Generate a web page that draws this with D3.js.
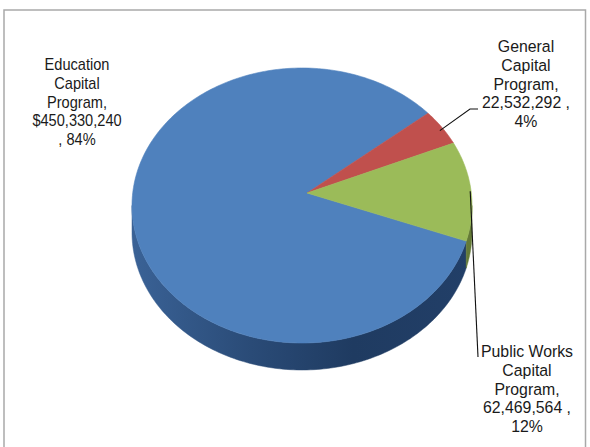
<!DOCTYPE html>
<html>
<head>
<meta charset="utf-8">
<script src="https://cdn.jsdelivr.net/npm/d3@7"></script>
<style>
  html, body { margin: 0; padding: 0; background: #fff; }
  svg { display: block; }
  text { font-family: "Liberation Sans", Arial, sans-serif; fill: #1a1a1a; }
</style>
</head>
<body>
<script>
// Capital program budget split
const categories = ["Education Capital Program", "General Capital Program", "Public Works Capital Program"];
const nameLines = [["Education", "Capital", "Program,"], ["General", "Capital", "Program,"], ["Public Works", "Capital", "Program,"]];
const values = [450330240, 22532292, 62469564];
const currencyPrefix = ["$", "", ""];
const topColors = ["#4f81bd", "#c0504d", "#9bbb59"];
const sideColors = ["#27466f", "#7a2f2d", "#647a37"];

const W = 590, H = 447;
const svg = d3.select("body").append("svg").attr("width", W).attr("height", H);

// chart frame
svg.append("rect")
  .attr("x", 4).attr("y", 10).attr("width", 581.5).attr("height", 460)
  .attr("fill", "none").attr("stroke", "#a9a9a9").attr("stroke-width", 1.5);

// tilted pie geometry
const cx = 302, cy = 205.5, rx = 170, ry = 137.5, depth = 27;
const apex = [307, 193];
const startDeg = 15; // first slice starts just below 3 o'clock and runs clockwise

const pie = d3.pie().sort(null)
  .startAngle((startDeg + 90) * Math.PI / 180)
  .endAngle((startDeg + 90 + 360) * Math.PI / 180);
const arcs = pie(values);
const total = d3.sum(values);

// d3.pie angles are clockwise from 12 o'clock; convert to ellipse parameter
const toT = a => a - Math.PI / 2;
const pt = (t, dy = 0) => [cx + rx * Math.cos(t), cy + ry * Math.sin(t) + dy];
const line = d3.line();

function ellipseRun(t0, t1, dy) {
  const n = Math.max(2, Math.ceil(Math.abs(t1 - t0) / 0.02));
  return d3.range(n + 1).map(i => pt(t0 + (t1 - t0) * i / n, dy));
}

// side walls (front half only: t in [0, PI], modulo 2PI)
const defs = svg.append("defs");
const grad = defs.append("linearGradient").attr("id", "sideBlue")
  .attr("gradientUnits", "userSpaceOnUse")
  .attr("x1", cx - rx).attr("x2", cx + rx).attr("y1", 0).attr("y2", 0);
grad.append("stop").attr("offset", "0%").attr("stop-color", "#3a6296");
grad.append("stop").attr("offset", "35%").attr("stop-color", "#2a4b77");
grad.append("stop").attr("offset", "65%").attr("stop-color", "#1f3b61");
grad.append("stop").attr("offset", "100%").attr("stop-color", "#223f68");

const sideG = svg.append("g");
arcs.forEach((d, i) => {
  const t0 = toT(d.startAngle), t1 = toT(d.endAngle);
  [0, 2 * Math.PI].forEach(off => {
    const a = Math.max(t0, off), b = Math.min(t1, off + Math.PI);
    if (b > a) {
      const pts = ellipseRun(a, b, 0).concat(ellipseRun(b, a, depth));
      sideG.append("path")
        .attr("d", line(pts) + "Z")
        .attr("fill", i === 0 ? "url(#sideBlue)" : sideColors[i])
        .attr("stroke", i === 0 ? "url(#sideBlue)" : sideColors[i])
        .attr("stroke-width", 0.5);
    }
  });
});

// top faces
const topG = svg.append("g");
arcs.forEach((d, i) => {
  const t0 = toT(d.startAngle), t1 = toT(d.endAngle);
  const pts = [apex].concat(ellipseRun(t0, t1, 0));
  topG.append("path")
    .attr("d", line(pts) + "Z")
    .attr("fill", topColors[i])
    .attr("stroke", topColors[i])
    .attr("stroke-width", 0.6)
    .attr("stroke-linejoin", "round");
});

// labels (slightly condensed type)
const fmt = d3.format(",");
const pct = d3.format(".0%");
const labelSpecs = [
  { x: 77, y: 70, size: 16.4, sx: 0.89, lines: () => nameLines[0].concat([currencyPrefix[0] + fmt(values[0]), ", " + pct(values[0] / total)]) },
  { x: 526, y: 52, size: 17.4, sx: 0.91, lines: () => nameLines[1].concat([currencyPrefix[1] + fmt(values[1]) + " ,", pct(values[1] / total)]) },
  { x: 527, y: 357, size: 17.4, sx: 0.91, lines: () => nameLines[2].concat([currencyPrefix[2] + fmt(values[2]) + " ,", pct(values[2] / total)]) }
];
const lineH = 18.8;
labelSpecs.forEach(s => {
  const t = svg.append("g")
    .attr("transform", `translate(${s.x},0) scale(${s.sx},1)`)
    .append("text")
    .attr("text-anchor", "middle")
    .style("font-size", s.size + "px");
  s.lines().forEach((ln, k) => {
    t.append("tspan").attr("x", 0).attr("y", s.y + k * lineH).text(ln);
  });
});

// leader lines from slice mid-angles
function midPt(d, f) {
  const t = toT((d.startAngle + d.endAngle) / 2);
  return [cx + rx * f * Math.cos(t), cy + ry * f * Math.sin(t)];
}
const leaders = svg.append("g").attr("fill", "none").attr("stroke", "#111").attr("stroke-width", 1.1);
const g0 = midPt(arcs[1], 0.985);
leaders.append("path").attr("d", line([[g0[0], g0[1] + 2], [470, 109], [478, 109]]));
const p0 = midPt(arcs[2], 0.995);
leaders.append("path").attr("d", line([[p0[0], p0[1]], [478, 357]]));
</script>
</body>
</html>
